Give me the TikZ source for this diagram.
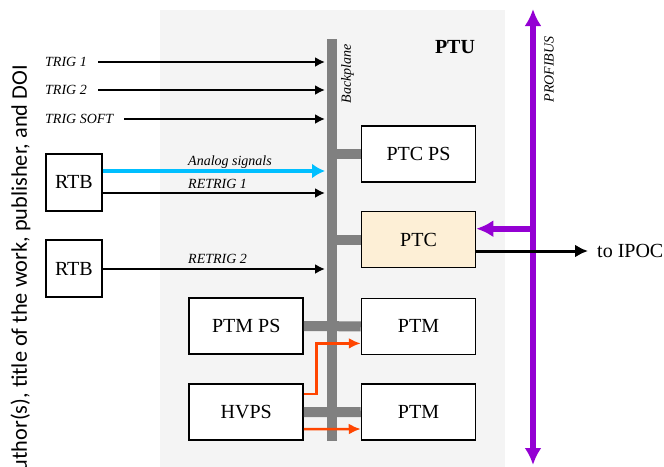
\documentclass[tikz,border=0pt]{standalone}
\usepackage{fontspec}
\setmainfont{Liberation Serif}
\newfontfamily\wmfont{Carlito}
\usetikzlibrary{arrows.meta}
\definecolor{ptugrey}{HTML}{F4F4F4}
\definecolor{busgrey}{HTML}{808080}
\definecolor{ptcfill}{HTML}{FDEFD6}
\definecolor{analogblue}{HTML}{00BFFF}
\definecolor{hvorange}{HTML}{FF4500}
\definecolor{pbpurple}{HTML}{9400D3}

\begin{document}
\begin{tikzpicture}[x=1pt,y=-1pt,
  box/.style={draw,line width=1.5pt,fill=white,minimum width=114pt,minimum height=56pt,
    inner sep=0pt,font=\fontsize{20}{24}\selectfont},
  rtbbox/.style={box,minimum width=56pt,minimum height=57pt},
  siglabel/.style={inner sep=0pt,font=\fontsize{14}{16}\selectfont\itshape},
  sig/.style={line width=2pt,-{Latex[length=10pt,width=10pt]}},
  analog/.style={analogblue,line width=4pt,-{Latex[length=13pt,width=15pt]}},
  hvline/.style={hvorange,line width=2.5pt,-{Latex[length=12pt,width=11pt]}},
  bus/.style={busgrey,line width=10pt},
  profibus/.style={pbpurple,line width=6pt,-{Latex[length=17pt,width=17pt]}}]
\useasboundingbox (0,0) rectangle (664,466);
\def\bx{418.5}
\def\lx{246.2}

% watermark of the page
\node[rotate=90,anchor=base east,inner sep=0pt,font=\wmfont\fontsize{22.3}{26}\selectfont]
  (wmark) at (27,65) {uthor(s), title of the work, publisher, and DOI};

% PTU crate
\fill[ptugrey] (160,10) rectangle (505,470);
\node[font=\fontsize{20}{24}\selectfont\bfseries] (ptu) at (455,47) {PTU};

% backplane
\coordinate (bpTop) at (332,39);
\coordinate (bpBot) at (332,441);
\coordinate (bpL) at (325,0);
\draw[bus] (bpTop) -- (bpBot);
\node[siglabel,rotate=90] (bplabel) at (347.5,74) {Backplane};

% modules
\node[box] (ptcps) at (\bx,154) {PTC PS};
\node[box,fill=ptcfill] (ptc) at (\bx,239.7) {PTC};
\node[box] (ptm1) at (\bx,326.4) {PTM};
\node[box] (ptm2) at (\bx,412) {PTM};
\node[box] (ptmps) at (\lx,326) {PTM PS};
\node[box] (hvps) at (\lx,412.2) {HVPS};
\draw[bus] (ptcps.west) -- (ptcps.west -| bpTop);
\draw[bus] (ptc.west) -- (ptc.west -| bpTop);
\draw[bus] (ptmps.east) -- (ptm1.west);
\draw[bus] (hvps.east) -- (ptm2.west);

% high voltage
\draw[hvline] ([yshift=18pt]hvps.east) -- ++(12.5,0) |- ([yshift=-17pt]ptm1.west);
\draw[hvline] ([yshift=-17pt]hvps.east) -- ([yshift=-17pt]ptm2.west);

% trigger inputs
\node[siglabel,anchor=west] (trig1) at (45,62) {TRIG 1};
\node[siglabel,anchor=west] (trig2) at (45,90) {TRIG 2};
\node[siglabel,anchor=west] (trigsoft) at (45,119) {TRIG SOFT};
\draw[sig,shorten <=11pt] (trig1.east) -- (trig1.east -| bpL);
\draw[sig,shorten <=11pt] (trig2.east) -- (trig2.east -| bpL);
\draw[sig,shorten <=11pt] (trigsoft.east) -- (trigsoft.east -| bpL);

% retrigger boxes
\node[rtbbox] (rtb1) at (73.9,182.4) {RTB};
\node[rtbbox] (rtb2) at (73.9,268.5) {RTB};
\coordinate (analogout) at (rtb1.east |- 0,171);
\coordinate (retrig1out) at (rtb1.east |- 0,193);
\coordinate (retrig2out) at (rtb2.east |- 0,269);
\draw[analog] (analogout) -- (analogout -| bpL);
\draw[sig] (retrig1out) -- (retrig1out -| bpL);
\draw[sig] (retrig2out) -- (retrig2out -| bpL);
\node[siglabel,anchor=base west] (analoglabel) at (188,165.5) {Analog signals};
\node[siglabel,anchor=base west] (retrig1) at (188,188) {RETRIG 1};
\node[siglabel,anchor=base west] (retrig2) at (188,263) {RETRIG 2};

% PROFIBUS
\coordinate (pbTop) at (533,9);
\coordinate (pbBot) at (533,465);
\draw[profibus,{Latex[length=17pt,width=17pt]}-{Latex[length=17pt,width=17pt]}] (pbBot) -- (pbTop);
\node[siglabel,rotate=90] (pblabel) at (549,69.5) {PROFIBUS};
\draw[profibus] ([yshift=11pt]ptc.east -| pbTop) -- ([yshift=11pt]ptc.east);

% to IPOC
\node[anchor=west,inner sep=0pt,font=\fontsize{20}{24}\selectfont] (ipoc) at (597,251) {to IPOC};
\draw[line width=3pt,-{Latex[length=13pt,width=13pt]},shorten >=9pt] ([yshift=-11.3pt]ptc.east) -- (ipoc.west);
\end{tikzpicture}
\end{document}
